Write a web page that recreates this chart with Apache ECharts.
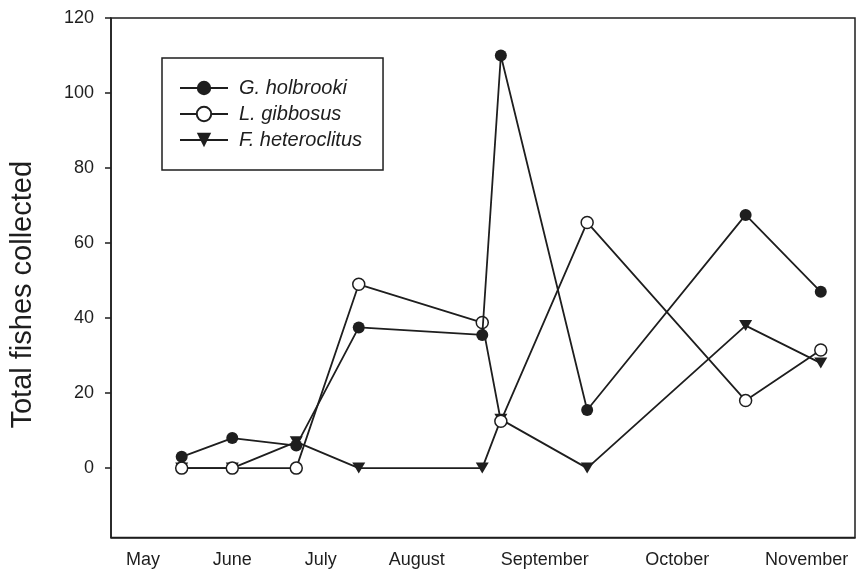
<!DOCTYPE html>
<html>
<head>
<meta charset="utf-8">
<script src="https://cdn.jsdelivr.net/npm/echarts@6/dist/echarts.min.js"></script>
<style>
  html, body { margin: 0; padding: 0; background: #fff; }
  #chart { width: 857px; height: 574px; }
</style>
</head>
<body>
<div id="chart"></div>
<script>
// Sampling dates on a continuous season scale (0 = late April, 100 = end of November)
const sampleX = [9.5, 16.3, 24.9, 33.3, 49.9, 52.4, 64.0, 85.3, 95.4];

// Total fishes collected per sampling date
const holbrooki    = [3, 8, 6, 37.5, 35.5, 110, 15.5, 67.5, 47];
const gibbosus     = [0, 0, 0, 49, 38.8, 12.5, 65.5, 18, 31.5];
const heteroclitus = [0, 0, 7, 0, 0, 13, 0, 38, 28];

// Month labels along the season scale
const monthNames = ['May', 'June', 'July', 'August', 'September', 'October', 'November'];
const monthPos   = [4.3, 16.3, 28.2, 41.1, 58.3, 76.1, 93.5];

// Y tick labels
const yTicks = [0, 20, 40, 60, 80, 100, 120];

const FONT = '"Liberation Sans", Arial, Helvetica, sans-serif';
const INK = '#1e1e1e';

function pairs(ys) {
  return sampleX.map((x, i) => [x, ys[i]]);
}

const downTriangle = 'path://M0,0 L10,0 L5,8.66 Z';

const chart = echarts.init(document.getElementById('chart'), null, { renderer: 'canvas' });

chart.setOption({
  animation: false,
  backgroundColor: '#fff',
  grid: {
    left: 111, right: 2, top: 18, bottom: 36.5,
    outerBoundsMode: 'none',
    containLabel: false,
    show: true, borderColor: INK, borderWidth: 1.5, backgroundColor: 'transparent'
  },
  legend: {
    orient: 'vertical',
    left: 162, top: 58,
    borderColor: INK, borderWidth: 1.5,
    padding: [20, 21, 20, 17],
    itemWidth: 48, itemHeight: 18, itemGap: 6,
    textStyle: {
      fontFamily: FONT, fontStyle: 'italic', fontSize: 20, color: INK,
      lineHeight: 20, padding: [0, 0, 0, 6]
    },
    data: ['G. holbrooki', 'L. gibbosus', 'F. heteroclitus']
  },
  xAxis: {
    type: 'value',
    min: 0, max: 100,
    axisLine: { show: true, onZero: false, lineStyle: { color: INK, width: 1.5 } },
    axisTick: { show: false },
    splitLine: { show: false },
    axisLabel: {
      customValues: monthPos,
      margin: 14,
      fontFamily: FONT, fontSize: 18, color: INK,
      formatter: function (v) {
        let best = 0;
        monthPos.forEach((p, i) => { if (Math.abs(p - v) < Math.abs(monthPos[best] - v)) best = i; });
        return monthNames[best];
      }
    }
  },
  yAxis: {
    type: 'value',
    min: -18.5, max: 120,
    name: 'Total fishes collected',
    nameLocation: 'middle',
    nameGap: 74,
    nameTextStyle: { fontFamily: FONT, fontSize: 29, color: INK, padding: [0, 34, 0, 0] },
    axisLine: { show: true, onZero: false, lineStyle: { color: INK, width: 1.5 } },
    axisTick: { show: true, customValues: yTicks, length: 6, lineStyle: { color: INK, width: 1.5 } },
    splitLine: { show: false },
    axisLabel: {
      customValues: yTicks,
      margin: 17,
      fontFamily: FONT, fontSize: 18, color: INK
    }
  },
  series: [
    {
      name: 'F. heteroclitus',
      type: 'line',
      data: pairs(heteroclitus),
      symbol: downTriangle,
      symbolSize: [13, 11],
      z: 2,
      lineStyle: { color: INK, width: 1.8 },
      itemStyle: { color: INK }
    },
    {
      name: 'L. gibbosus',
      type: 'line',
      data: pairs(gibbosus),
      symbol: 'circle',
      symbolSize: 12,
      z: 3,
      lineStyle: { color: INK, width: 1.8 },
      itemStyle: { color: '#fff', borderColor: INK, borderWidth: 1.5 }
    },
    {
      name: 'G. holbrooki',
      type: 'line',
      data: pairs(holbrooki),
      symbol: 'circle',
      symbolSize: 12,
      z: 4,
      lineStyle: { color: INK, width: 1.8 },
      itemStyle: { color: INK }
    }
  ]
});
</script>
</body>
</html>
